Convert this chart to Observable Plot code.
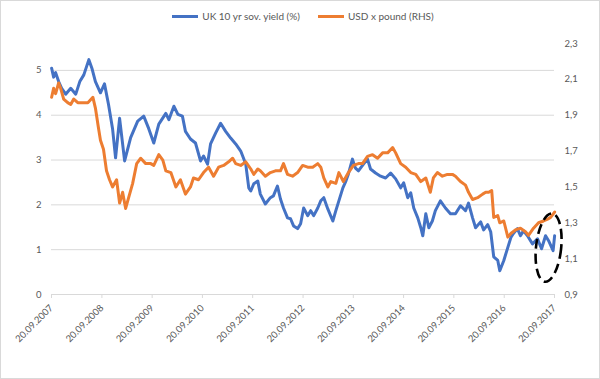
<!DOCTYPE html>
<html><head><meta charset="utf-8">
<script src="https://cdn.jsdelivr.net/npm/d3@7"></script>
<script src="https://cdn.jsdelivr.net/npm/@observablehq/plot@0.6"></script>
<style>
body{margin:0;background:#fff;}
#chart{width:600px;height:379px;box-sizing:border-box;border:1px solid #d9d9d9;font-family:Lato,"Open Sans",sans-serif;color:#595959;background:#fff;overflow:hidden}
.legend{height:30px;display:flex;justify-content:center;align-items:center;font-size:10px;padding-left:6px}
.item{display:flex;align-items:center;margin:0 9px}
.sw{width:26px;height:3px;margin-right:4px}
svg{display:block}
</style></head><body>
<div id="chart"><div class="legend" id="legend"></div></div>
<script>
// Series names & colours
const seriesNames = ["UK 10 yr sov. yield (%)", "USD x pound (RHS)"];
const seriesColors = ["#4472C4", "#ED7D31"];

// UK 10y yield (left axis), dates as decimal years
const ukT = [2007.72,2007.76,2007.80,2007.86,2007.92,2008.00,2008.10,2008.20,2008.28,2008.36,2008.46,2008.52,2008.59,2008.69,2008.77,2008.85,2008.93,2008.99,2009.07,2009.17,2009.29,2009.43,2009.55,2009.65,2009.75,2009.85,2009.99,2010.05,2010.15,2010.23,2010.32,2010.38,2010.48,2010.58,2010.68,2010.74,2010.82,2010.88,2010.98,2011.08,2011.18,2011.28,2011.38,2011.48,2011.58,2011.64,2011.68,2011.74,2011.82,2011.87,2011.97,2012.07,2012.13,2012.21,2012.27,2012.33,2012.41,2012.47,2012.53,2012.61,2012.67,2012.73,2012.81,2012.87,2012.93,2013.01,2013.07,2013.13,2013.21,2013.31,2013.37,2013.43,2013.51,2013.57,2013.62,2013.70,2013.76,2013.82,2013.86,2013.92,2014.00,2014.06,2014.16,2014.26,2014.36,2014.46,2014.56,2014.66,2014.72,2014.80,2014.86,2014.92,2015.00,2015.06,2015.10,2015.16,2015.22,2015.29,2015.35,2015.45,2015.55,2015.65,2015.75,2015.85,2015.95,2016.01,2016.09,2016.15,2016.25,2016.31,2016.39,2016.45,2016.51,2016.59,2016.63,2016.71,2016.77,2016.85,2016.90,2016.98,2017.04,2017.10,2017.18,2017.28,2017.38,2017.46,2017.54,2017.60,2017.69,2017.72];
const ukYield = [5.05,4.85,4.95,4.75,4.60,4.47,4.60,4.47,4.75,4.90,5.24,5.05,4.75,4.50,4.70,4.24,3.70,3.05,3.93,2.98,3.50,3.87,3.98,3.70,3.38,3.80,4.04,3.90,4.20,4.02,3.98,3.64,3.47,3.38,2.98,3.09,2.91,3.36,3.60,3.82,3.64,3.49,3.36,3.20,2.91,2.38,2.31,2.47,2.53,2.24,2.02,2.16,2.20,2.42,2.13,1.93,1.71,1.69,1.53,1.47,1.58,1.93,1.76,1.87,1.76,1.93,2.09,2.16,1.91,1.64,1.87,2.09,2.38,2.53,2.69,3.02,2.82,2.76,2.82,2.91,3.02,2.80,2.71,2.64,2.60,2.71,2.58,2.38,2.49,2.16,2.27,1.93,1.71,1.49,1.31,1.80,1.49,1.64,1.87,2.09,1.93,1.80,1.80,1.98,1.87,2.04,1.71,1.49,1.62,1.44,1.56,1.40,0.84,0.76,0.53,0.76,0.98,1.27,1.36,1.47,1.31,1.42,1.31,1.13,1.24,1.02,1.31,1.20,0.98,1.31];

// USD per GBP (right axis)
const fxT = [2007.72,2007.76,2007.80,2007.86,2007.90,2007.96,2008.04,2008.10,2008.16,2008.24,2008.34,2008.44,2008.54,2008.59,2008.65,2008.69,2008.75,2008.81,2008.87,2008.93,2009.01,2009.07,2009.13,2009.19,2009.25,2009.33,2009.41,2009.49,2009.59,2009.69,2009.75,2009.85,2009.93,2009.99,2010.09,2010.19,2010.28,2010.38,2010.48,2010.54,2010.64,2010.74,2010.84,2010.94,2011.04,2011.14,2011.24,2011.32,2011.38,2011.48,2011.58,2011.68,2011.74,2011.82,2011.87,2011.97,2012.07,2012.17,2012.27,2012.33,2012.41,2012.51,2012.61,2012.71,2012.81,2012.91,2013.01,2013.07,2013.13,2013.21,2013.27,2013.37,2013.43,2013.52,2013.62,2013.72,2013.82,2013.90,2014.00,2014.10,2014.20,2014.30,2014.40,2014.50,2014.56,2014.66,2014.76,2014.86,2014.96,2015.06,2015.16,2015.25,2015.31,2015.39,2015.49,2015.59,2015.69,2015.75,2015.85,2015.95,2016.01,2016.09,2016.19,2016.29,2016.35,2016.41,2016.47,2016.51,2016.59,2016.63,2016.71,2016.79,2016.85,2016.94,2017.04,2017.14,2017.20,2017.30,2017.40,2017.50,2017.58,2017.64,2017.72];
const fxRate = [2.00,2.05,2.02,2.08,2.05,1.99,1.97,1.96,1.99,1.97,1.97,1.97,2.00,1.94,1.83,1.76,1.71,1.59,1.54,1.50,1.54,1.41,1.47,1.38,1.44,1.52,1.63,1.66,1.63,1.63,1.62,1.68,1.65,1.59,1.58,1.50,1.54,1.46,1.50,1.55,1.54,1.58,1.61,1.56,1.61,1.62,1.64,1.66,1.63,1.62,1.64,1.60,1.57,1.60,1.59,1.56,1.58,1.59,1.59,1.63,1.57,1.56,1.58,1.62,1.61,1.61,1.63,1.61,1.55,1.50,1.53,1.52,1.58,1.53,1.58,1.62,1.63,1.63,1.67,1.68,1.66,1.69,1.69,1.72,1.69,1.63,1.61,1.58,1.57,1.53,1.55,1.47,1.55,1.58,1.56,1.57,1.57,1.56,1.53,1.51,1.47,1.43,1.44,1.46,1.47,1.47,1.48,1.33,1.34,1.30,1.31,1.22,1.24,1.26,1.27,1.25,1.23,1.27,1.30,1.31,1.32,1.33,1.36];

// Axis ticks
const leftTicks = [0, 1, 2, 3, 4, 5];
const rightTicks = [0.9, 1.1, 1.3, 1.5, 1.7, 1.9, 2.1, 2.3];
const xTickDates = ["2007-09-20","2008-09-20","2009-09-20","2010-09-20","2011-09-20","2012-09-20","2013-09-20","2014-09-20","2015-09-20","2016-09-20","2017-09-20"];

// Annotation ellipse extent (decimal years, left-axis units)
const ellipseX = [2017.36, 2017.86];
const ellipseY = [0.27, 1.80];

const leftMax = 5.6, rightMin = 0.9, rightMax = 2.3;
const toLeft = v => (v - rightMin) / (rightMax - rightMin) * leftMax;
const toRight = v => v / leftMax * (rightMax - rightMin) + rightMin;
function toDate(t) {
  const y = Math.floor(t);
  const s = Date.UTC(y, 0, 1), e = Date.UTC(y + 1, 0, 1);
  return new Date(s + (t - y) * (e - s));
}

const uk = ukT.map((t, i) => ({date: toDate(t), value: ukYield[i]}));
const fx = fxT.map((t, i) => ({date: toDate(t), value: toLeft(fxRate[i])}));

// Legend
const legend = document.getElementById("legend");
seriesNames.forEach((n, i) => {
  const it = document.createElement("div"); it.className = "item";
  const sw = document.createElement("span"); sw.className = "sw"; sw.style.background = seriesColors[i];
  const tx = document.createElement("span"); tx.textContent = n;
  it.append(sw, tx); legend.append(it);
});

const plot = Plot.plot({
  width: 598, height: 347,
  marginLeft: 50, marginRight: 45, marginTop: 12, marginBottom: 84,
  x: {type: "utc", domain: [new Date(xTickDates[0]), new Date(xTickDates[xTickDates.length - 1])]},
  y: {domain: [0, leftMax]},
  style: {fontFamily: "Lato, 'Open Sans', sans-serif", fontSize: "9.5px", color: "#595959", background: "#fff", overflow: "visible"},
  marks: [
    Plot.gridY({ticks: leftTicks, stroke: "#d9d9d9", strokeOpacity: 1}),
    Plot.axisY({ticks: leftTicks, tickSize: 0, tickPadding: 10, label: null, tickFormat: d => String(d)}),
    Plot.axisY({anchor: "right", ticks: rightTicks.map(toLeft), tickSize: 0, tickPadding: 10, label: null,
      tickFormat: d => toRight(d).toFixed(1).replace(".", ",")}),
    Plot.axisX({ticks: xTickDates.map(d => new Date(d)), tickFormat: d3.utcFormat("%d.%m.%Y"), tickRotate: -45, tickSize: 4, stroke: "#d9d9d9", label: null}),
    Plot.ruleY([0], {stroke: "#d9d9d9"}),
    Plot.line(uk, {x: "date", y: "value", stroke: seriesColors[0], strokeWidth: 3}),
    Plot.line(fx, {x: "date", y: "value", stroke: seriesColors[1], strokeWidth: 3})
  ]
});
document.getElementById("chart").append(plot);

// dashed ellipse annotation
const sx = plot.scale("x"), sy = plot.scale("y");
const ex0 = sx.apply(toDate(ellipseX[0])), ex1 = sx.apply(toDate(ellipseX[1]));
const ey0 = sy.apply(ellipseY[0]), ey1 = sy.apply(ellipseY[1]);
const cx = (ex0 + ex1) / 2, cy = (ey0 + ey1) / 2;
d3.select(plot).append("ellipse")
  .attr("cx", cx).attr("cy", cy)
  .attr("rx", Math.abs(ex1 - ex0) / 2).attr("ry", Math.abs(ey1 - ey0) / 2)
  .attr("transform", `rotate(6 ${cx} ${cy})`)
  .attr("fill", "none").attr("stroke", "#000").attr("stroke-width", 2.6).attr("stroke-dasharray", "10 5");
</script>
</body></html>
